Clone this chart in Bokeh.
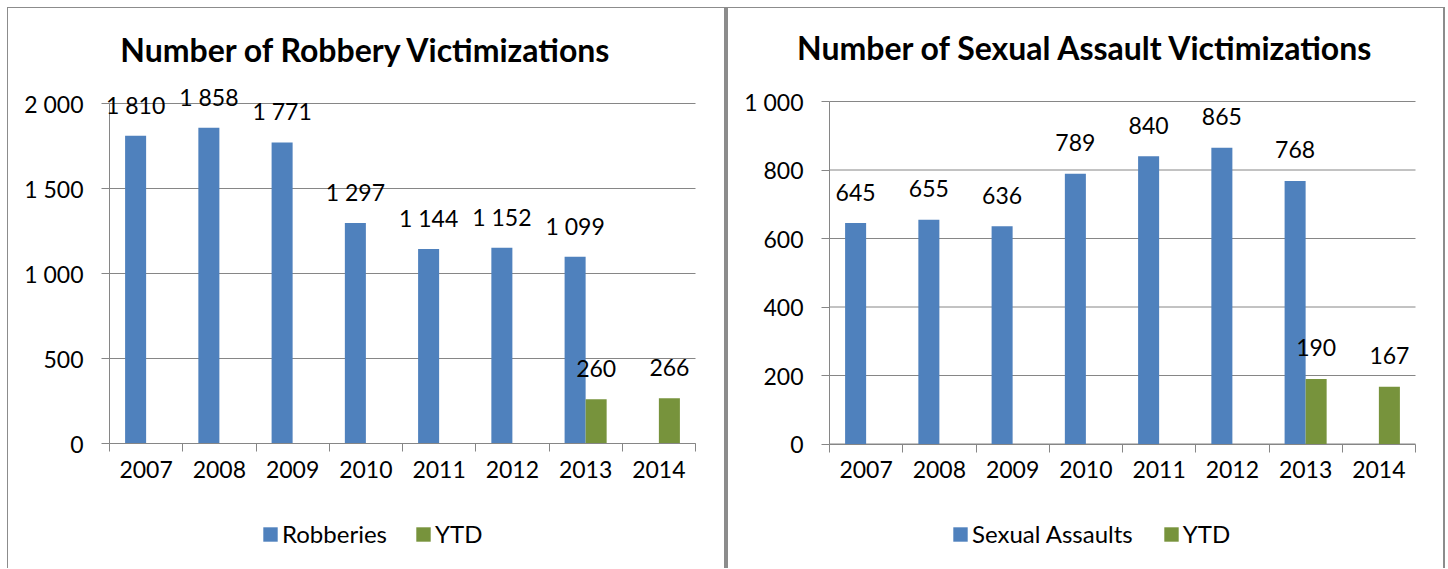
from bokeh.plotting import figure
from bokeh.models import (ColumnDataSource, FixedTicker, Legend, LegendItem,
                          Range1d, LabelSet, Label, Div, LinearAxis, Grid)
from bokeh.layouts import row, column
from bokeh.embed import file_html
from bokeh.resources import INLINE
from bokeh.core.properties import value

# ---------------- data ----------------
years = ["2007", "2008", "2009", "2010", "2011", "2012", "2013", "2014"]

robbery_years = ["2007", "2008", "2009", "2010", "2011", "2012", "2013"]
robberies = [1810, 1858, 1771, 1297, 1144, 1152, 1099]
robbery_ytd_years = ["2013", "2014"]
robbery_ytd = [260, 266]
robbery_yticks = [0, 500, 1000, 1500, 2000]
robbery_ytick_labels = ["0", "500", "1 000", "1 500", "2 000"]

sa_years = ["2007", "2008", "2009", "2010", "2011", "2012", "2013"]
sexual_assaults = [645, 655, 636, 789, 840, 865, 768]
sa_ytd_years = ["2013", "2014"]
sa_ytd = [190, 167]
sa_yticks = [0, 200, 400, 600, 800, 1000]
sa_ytick_labels = ["0", "200", "400", "600", "800", "1 000"]

# ---------------- style ----------------
BLUE = "#4F81BD"
GREEN = "#77933C"
GRID = "#868686"
BORDER = "#8c8c8c"
FONT = "Lato"
BAR_W = 0.287
FIG_H = 560


def fmt(v):
    return f"{v:,}".replace(",", " ")


def make_panel(title, main_name, main_years, main_vals, ytd_years, ytd_vals,
               yticks, ylabels, fig_w, px_left, px_right, px_top, px_bottom,
               title_base, legend_x, legend_spacing):
    n = len(years)
    ymax = yticks[-1]
    ux = (px_right - px_left) / n
    uy = (px_bottom - px_top) / ymax
    x_range = Range1d(-px_left / ux, n + (fig_w - px_right) / ux)
    y_range = Range1d(-(FIG_H - px_bottom) / uy, ymax + px_top / uy)
    p = figure(width=fig_w, height=FIG_H, x_range=x_range, y_range=y_range,
               title=None, x_axis_location=None, y_axis_location=None,
               output_backend="svg", toolbar_location=None,
               min_border=0)
    # drop the default grids entirely
    p.center = [r for r in p.center if not isinstance(r, Grid)]
    p.outline_line_color = None
    p.background_fill_color = "white"
    p.border_fill_color = "white"

    # horizontal gridlines, only across the plot area
    grid_src = ColumnDataSource(dict(y=yticks, x0=[0] * len(yticks),
                                     x1=[n] * len(yticks)))
    p.segment(x0="x0", x1="x1", y0="y", y1="y", source=grid_src,
              line_color=GRID, line_width=1, level="underlay")

    # y axis
    ya = LinearAxis(fixed_location=0, bounds=(0, ymax),
                    ticker=FixedTicker(ticks=yticks, minor_ticks=[]),
                    major_label_overrides={t: l for t, l in zip(yticks, ylabels)},
                    axis_line_color=GRID, major_tick_line_color=GRID,
                    major_tick_out=8, major_tick_in=0,
                    minor_tick_line_color=None, major_label_standoff=18,
                    major_label_text_font=FONT,
                    major_label_text_font_size="23px",
                    major_label_text_color="black")
    p.add_layout(ya, "left")

    # x axis: tick marks at category boundaries (no labels)
    bounds_ticks = list(range(n + 1))
    xa = LinearAxis(fixed_location=0, bounds=(0, n),
                    ticker=FixedTicker(ticks=bounds_ticks, minor_ticks=[]),
                    major_label_overrides={b: "" for b in bounds_ticks},
                    axis_line_color=GRID, major_tick_line_color=GRID,
                    major_tick_out=8, major_tick_in=0,
                    minor_tick_line_color=None,
                    major_label_text_font_size="1px")
    p.add_layout(xa, "below")
    # x labels: year names at category centres
    centers = [i + 0.5 for i in range(n)]
    xl = LinearAxis(fixed_location=0, bounds=(0, n),
                    ticker=FixedTicker(ticks=centers, minor_ticks=[]),
                    major_label_overrides={c: y for c, y in zip(centers, years)},
                    axis_line_color=None, major_tick_line_color=None,
                    major_tick_out=0, major_tick_in=0,
                    minor_tick_line_color=None, major_label_standoff=17,
                    major_label_text_font=FONT,
                    major_label_text_font_size="23px",
                    major_label_text_color="black")
    p.add_layout(xl, "below")

    # bars
    main_x = [years.index(y) + 0.5 - BAR_W / 2 for y in main_years]
    ytd_x = [years.index(y) + 0.5 + BAR_W / 2 for y in ytd_years]
    src_main = ColumnDataSource(dict(x=main_x, top=main_vals,
                                     lab=[fmt(v) for v in main_vals]))
    src_ytd = ColumnDataSource(dict(x=ytd_x, top=ytd_vals,
                                    lab=[fmt(v) for v in ytd_vals]))
    r1 = p.vbar(x="x", top="top", width=BAR_W, source=src_main,
                fill_color=BLUE, line_color=None)
    r2 = p.vbar(x="x", top="top", width=BAR_W, source=src_ytd,
                fill_color=GREEN, line_color=None)

    for src in (src_main, src_ytd):
        p.add_layout(LabelSet(x="x", y="top", text="lab", source=src,
                              y_offset=31, text_align="center",
                              text_baseline="middle", text_font=value(FONT),
                              text_font_size="23px", text_color="black"))

    # title
    p.add_layout(Label(x=fig_w / 2, y=FIG_H - title_base, x_units="screen",
                       y_units="screen", text=title, text_align="center",
                       text_baseline="alphabetic", text_font=FONT,
                       text_font_style="bold", text_font_size="32px",
                       text_color="black"))

    legend = Legend(items=[LegendItem(label=main_name, renderers=[r1]),
                           LegendItem(label="YTD", renderers=[r2])],
                    orientation="horizontal", location=(legend_x, 20),
                    glyph_width=18, glyph_height=18, label_standoff=3,
                    spacing=legend_spacing, padding=0, margin=0,
                    border_line_color=None, background_fill_alpha=0,
                    label_text_font=FONT, label_text_font_size="24px",
                    label_text_color="black")
    p.add_layout(legend, "center")
    return p


left = make_panel("Number of Robbery Victimizations", "Robberies",
                  robbery_years, robberies, robbery_ytd_years, robbery_ytd,
                  robbery_yticks, robbery_ytick_labels,
                  716, 101, 687, 95, 435, 41, 253, 27)
right = make_panel("Number of Sexual Assault Victimizations", "Sexual Assaults",
                   sa_years, sexual_assaults, sa_ytd_years, sa_ytd,
                   sa_yticks, sa_ytick_labels,
                   715, 101, 687, 93, 435.5, 39, 223, 29)


def line(w, h):
    return Div(width=w, height=h, margin=0,
               styles={"background-color": BORDER})


body = row(line(1, FIG_H), left, line(4, FIG_H), right, line(2, FIG_H),
           spacing=0)
layout = column(line(1438, 1), body, spacing=0, margin=(7, 0, 0, 7))

with open("out.html", "w") as f:
    f.write(file_html(layout, INLINE))
